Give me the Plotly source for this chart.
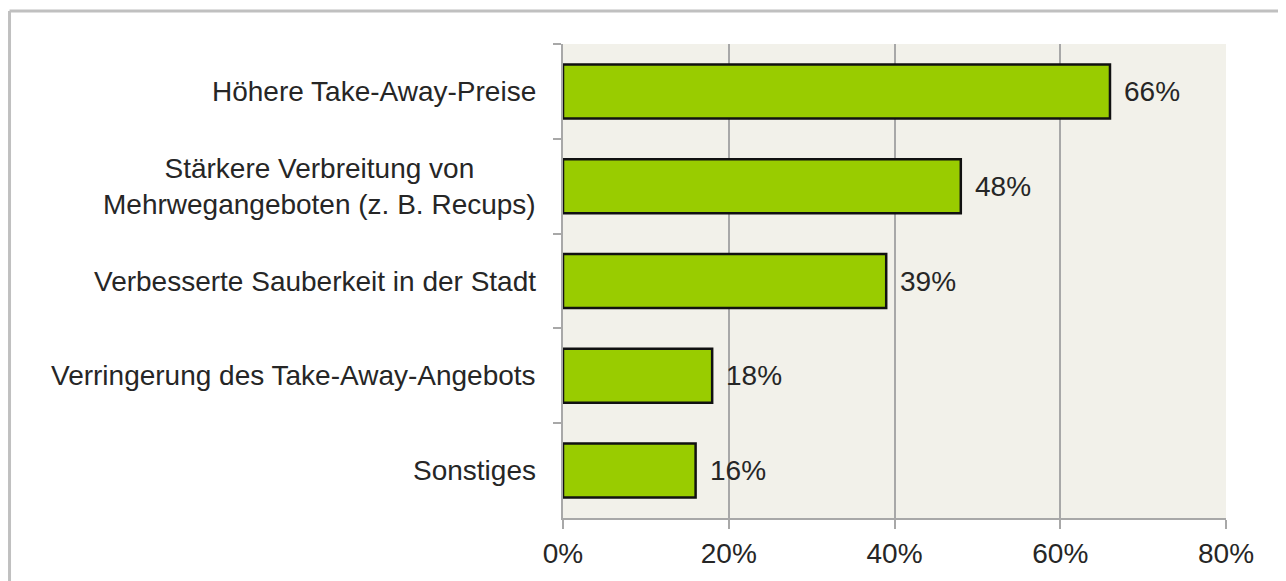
import plotly.graph_objects as go

categories = [
    "Höhere Take-Away-Preise",
    "Stärkere Verbreitung von<br>Mehrwegangeboten (z. B. Recups)",
    "Verbesserte Sauberkeit in der Stadt",
    "Verringerung des Take-Away-Angebots",
    "Sonstiges",
]
values = [66, 48, 39, 18, 16]
tick_vals = [0, 20, 40, 60, 80]
tick_text = ["0%", "20%", "40%", "60%", "80%"]

FONT = "Liberation Sans, Arial, sans-serif"
TXT = "#262626"

fig = go.Figure(go.Bar(
    x=values,
    y=categories,
    orientation="h",
    marker=dict(color="#99cc00", line=dict(color="#111111", width=2.5)),
    width=0.57,
    hoverinfo="skip",
))

# category labels (centered multi-line) and value labels
for cat, v in zip(categories, values):
    fig.add_annotation(x=0, y=cat, xref="paper", yref="y", text=cat,
                       xanchor="right", align="center", xshift=-25,
                       showarrow=False, font=dict(family=FONT, size=28, color=TXT))
    fig.add_annotation(x=v, y=cat, xref="x", yref="y", text=f"{v}%",
                       xanchor="left", xshift=12, showarrow=False,
                       font=dict(family=FONT, size=28, color=TXT))

# outer frame (left and top edges only, picture is cropped elsewhere)
frame = dict(color="#c0c0c0", width=3)
fig.add_shape(type="line", xref="paper", yref="paper",
              x0=-0.8348, x1=-0.8348, y0=-0.2, y1=1.0696, line=frame)
fig.add_shape(type="line", xref="paper", yref="paper",
              x0=-0.8348, x1=1.2, y0=1.0696, y1=1.0696, line=frame)

fig.update_layout(
    width=1278, height=573,
    margin=dict(l=555, r=60, t=36, b=63),
    paper_bgcolor="white",
    plot_bgcolor="#f2f1ea",
    showlegend=False,
    font=dict(family=FONT, size=28, color=TXT),
)
fig.update_xaxes(
    range=[0, 80], tickvals=tick_vals, ticktext=tick_text,
    showgrid=True, gridcolor="#a8a8a8", gridwidth=2,
    showline=True, linecolor="#a8a8a8", linewidth=2,
    ticks="outside", ticklen=9, tickwidth=2, tickcolor="#a8a8a8",
    tickfont=dict(family=FONT, size=28, color=TXT),
    zeroline=False, fixedrange=True,
)
fig.update_yaxes(
    autorange="reversed", showticklabels=False,
    showline=True, linecolor="#a8a8a8", linewidth=2,
    ticks="outside", ticklen=8, tickwidth=2, tickcolor="#a8a8a8",
    tickson="boundaries", showgrid=False, fixedrange=True,
)

fig.write_html("out.html")
